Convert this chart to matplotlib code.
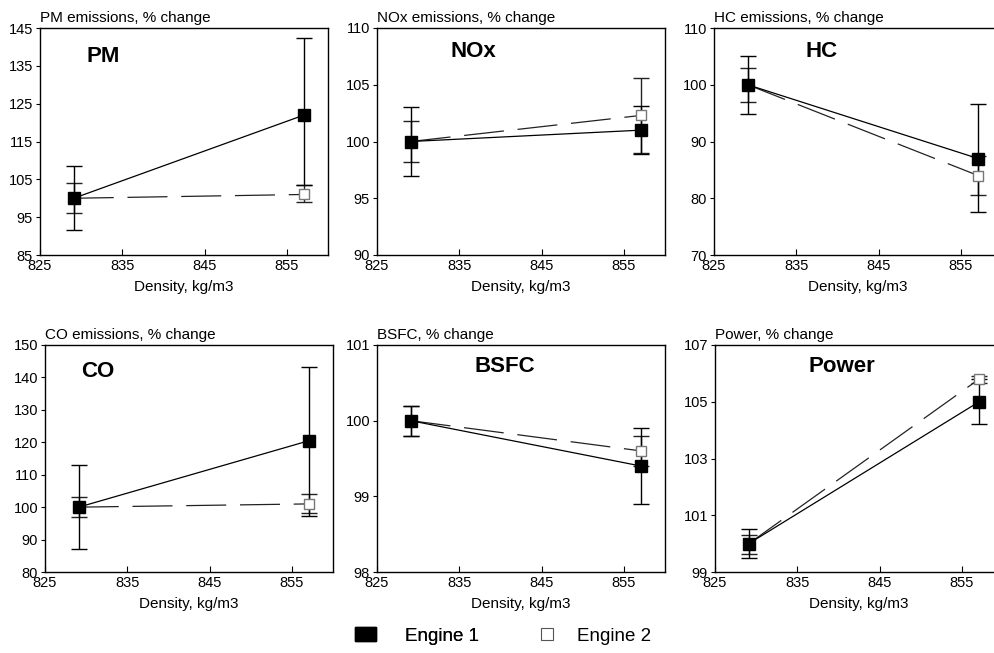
import matplotlib.pyplot as plt
from matplotlib.lines import Line2D
from matplotlib.patches import Patch

plt.rcParams['font.family'] = ['Liberation Sans', 'DejaVu Sans']

# data
density = [829.1, 857.1]

names = ['PM', 'NOx', 'HC', 'CO', 'BSFC', 'Power']
titles = ['PM emissions, % change', 'NOx emissions, % change', 'HC emissions, % change',
          'CO emissions, % change', 'BSFC, % change', 'Power, % change']

eng1 = {'PM': [100, 122], 'NOx': [100, 101], 'HC': [100, 87],
        'CO': [100, 120.5], 'BSFC': [100, 99.4], 'Power': [100, 105]}
eng1_lo = {'PM': [91.5, 103.6], 'NOx': [97, 98.9], 'HC': [94.9, 77.5],
           'CO': [87, 97.3], 'BSFC': [99.8, 98.9], 'Power': [99.5, 104.2]}
eng1_hi = {'PM': [108.6, 142.4], 'NOx': [103, 103.1], 'HC': [105.1, 96.6],
           'CO': [113, 143.2], 'BSFC': [100.2, 99.9], 'Power': [100.5, 105.8]}

eng2 = {'PM': [100, 101], 'NOx': [100, 102.3], 'HC': [100, 84],
        'CO': [100, 101], 'BSFC': [100, 99.6], 'Power': [100, 105.8]}
eng2_lo = {'PM': [96.1, 99], 'NOx': [98.2, 99.0], 'HC': [96.9, 80.6],
           'CO': [97, 98.2], 'BSFC': [99.8, 99.4], 'Power': [99.65, 105.65]}
eng2_hi = {'PM': [103.9, 103.6], 'NOx': [101.8, 105.6], 'HC': [103.0, 87.4],
           'CO': [103.1, 104.2], 'BSFC': [100.2, 99.8], 'Power': [100.32, 105.9]}

yticks = {'PM': list(range(85, 146, 10)), 'NOx': list(range(90, 111, 5)),
          'HC': list(range(70, 111, 10)), 'CO': list(range(80, 151, 10)),
          'BSFC': [98, 99, 100, 101], 'Power': [99, 101, 103, 105, 107]}
xticks = [825, 835, 845, 855]

# axes placement (pixels of the 994x653 picture)
W, H = 994, 653
boxes = {'PM': (40, 28), 'NOx': (377, 28), 'HC': (714, 28),
         'CO': (45, 345), 'BSFC': (377, 345), 'Power': (715, 345)}
aw, ah = 288, 227
label_pos = {'PM': (0.219, 0.873), 'NOx': (0.333, 0.897), 'HC': (0.374, 0.897),
             'CO': (0.184, 0.882), 'BSFC': (0.444, 0.904), 'Power': (0.44, 0.907)}

fig = plt.figure(figsize=(W / 100, H / 100), dpi=100)

for i, n in enumerate(names):
    x0, y0 = boxes[n]
    ax = fig.add_axes([x0 / W, 1 - (y0 + ah) / H, aw / W, ah / H])

    e1 = eng1[n]
    e2 = eng2[n]
    err1 = [[e1[k] - eng1_lo[n][k] for k in range(2)], [eng1_hi[n][k] - e1[k] for k in range(2)]]
    err2 = [[e2[k] - eng2_lo[n][k] for k in range(2)], [eng2_hi[n][k] - e2[k] for k in range(2)]]

    ax.errorbar(density, e2, yerr=err2, fmt='none', ecolor='#222222', elinewidth=1,
                capsize=6, capthick=1, zorder=2)
    ax.errorbar(density, e1, yerr=err1, fmt='none', ecolor='black', elinewidth=1,
                capsize=6, capthick=1, zorder=2)
    ax.plot(density, e2, color='#222222', lw=0.9, dashes=(32, 11), zorder=3)
    ax.plot(density, e1, color='black', lw=0.9, zorder=3)
    ax.plot(density, e2, 's', ms=7, mfc='white', mec='#777777', mew=1, zorder=4)
    ax.plot(density, e1, 's', ms=9, mfc='black', mec='black', zorder=5)

    ax.set_xlim(825, 860)
    ax.set_ylim(yticks[n][0], yticks[n][-1])
    ax.set_xticks(xticks)
    ax.set_yticks(yticks[n])
    ax.tick_params(axis='x', direction='in', length=4, pad=3, labelsize=10.5)
    ax.tick_params(axis='y', direction='out', length=3, pad=2, labelsize=10.5)
    for s in ax.spines.values():
        s.set_linewidth(1)
    ax.set_xlabel('Density, kg/m3', fontsize=11, labelpad=5)
    ax.text(0, 1.015, titles[i], transform=ax.transAxes, ha='left', va='bottom', fontsize=11)
    lx, ly = label_pos[n]
    ax.text(lx, ly, n, transform=ax.transAxes, ha='center', va='center',
            fontsize=16, fontweight='bold')

leg1 = fig.legend([Patch(facecolor='black', edgecolor='black')], ['Engine 1'],
                  loc='center left', bbox_to_anchor=(355 / W, 1 - 636 / H), frameon=False,
                  fontsize=13.5, handlelength=1.1, handleheight=0.75, handletextpad=1.55,
                  borderpad=0, borderaxespad=0)
fig.add_artist(leg1)
fig.legend([Line2D([], [], ls='none', marker='s', ms=9, mfc='white', mec='#555555', mew=0.8)],
           ['Engine 2'], loc='center left', bbox_to_anchor=(536 / W, 1 - 636 / H),
           frameon=False, fontsize=13.5, handlelength=1.2, handletextpad=1.0,
           borderpad=0, borderaxespad=0)

fig.savefig('out.png', dpi=100)
